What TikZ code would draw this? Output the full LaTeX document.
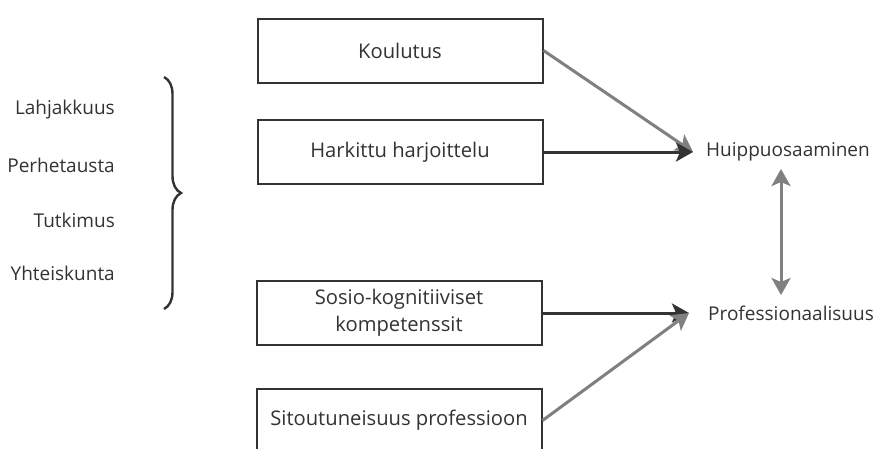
\documentclass[tikz,border=0pt]{standalone}
\usepackage{fontspec}
\setmainfont{Open Sans}
\usetikzlibrary{arrows.meta,decorations.pathreplacing}
\definecolor{txt}{HTML}{333333}
\definecolor{darkline}{HTML}{333333}
\definecolor{grayline}{HTML}{808080}
\begin{document}
\begin{tikzpicture}[x=1pt,y=-1pt,
  box/.style={draw=darkline,line width=2pt,minimum width=285pt,minimum height=64pt,
    inner sep=0pt,text=txt,font=\fontsize{20.2}{27}\selectfont,align=center},
  lbl/.style={text=txt,font=\fontsize{19}{27}\selectfont,inner sep=0pt},
  darr/.style={draw=darkline,line width=3pt,-{Stealth[length=17pt,width=19pt,inset=4pt]}},
  garr/.style={draw=grayline,line width=3pt,-{Stealth[length=17pt,width=19pt,inset=4pt]}},
  gdarr/.style={draw=grayline,line width=3pt,{Stealth[length=17pt,width=19pt,inset=4pt]}-{Stealth[length=17pt,width=19pt,inset=4pt]}}]
\useasboundingbox (0,0) rectangle (875,448);
\fill[white] (0,0) rectangle (875,448);
% left labels
\node[lbl,anchor=east] (l1) at (115,110) {Lahjakkuus};
\node[lbl,anchor=east] (l2) at (115,165) {Perhetausta};
\node[lbl,anchor=east] (l3) at (115,220) {Tutkimus};
\node[lbl,anchor=east] (l4) at (115,273) {Yhteiskunta};
% brace
\coordinate (bt) at (164,77);
\coordinate (bb) at (164,309);
\draw[darkline,line width=2.4pt,decorate,decoration={brace,amplitude=17pt,aspect=0.5}] (bt) -- (bb);
% boxes
\node[box] (kou) at (400,50.5) {Koulutus};
\node[box] (har) at (400,152) {Harkittu harjoittelu};
\node[box] (sos) at (399,313) {Sosio-kognitiiviset\\kompetenssit};
\node[box] (sit) at (399,420.5) {Sitoutuneisuus professioon};
% right labels
\node[lbl,anchor=west] (hui) at (706,152) {Huippuosaaminen};
\node[lbl,anchor=west] (pro) at (708,313) {Professionaalisuus};
% connector end points
\coordinate (hin) at (693,152);
\coordinate (pin) at (689,313);
\coordinate (vt) at (781,169);
\coordinate (vb) at (781,295);
% arrows
\draw[garr] (kou.east) -- (hin);
\draw[darr] (har.east) -- (hin);
\draw[darr] (sos.east) -- (pin);
\draw[garr] (sit.east) -- (pin);
\draw[gdarr] (vt) -- (vb);
\end{tikzpicture}
\end{document}
